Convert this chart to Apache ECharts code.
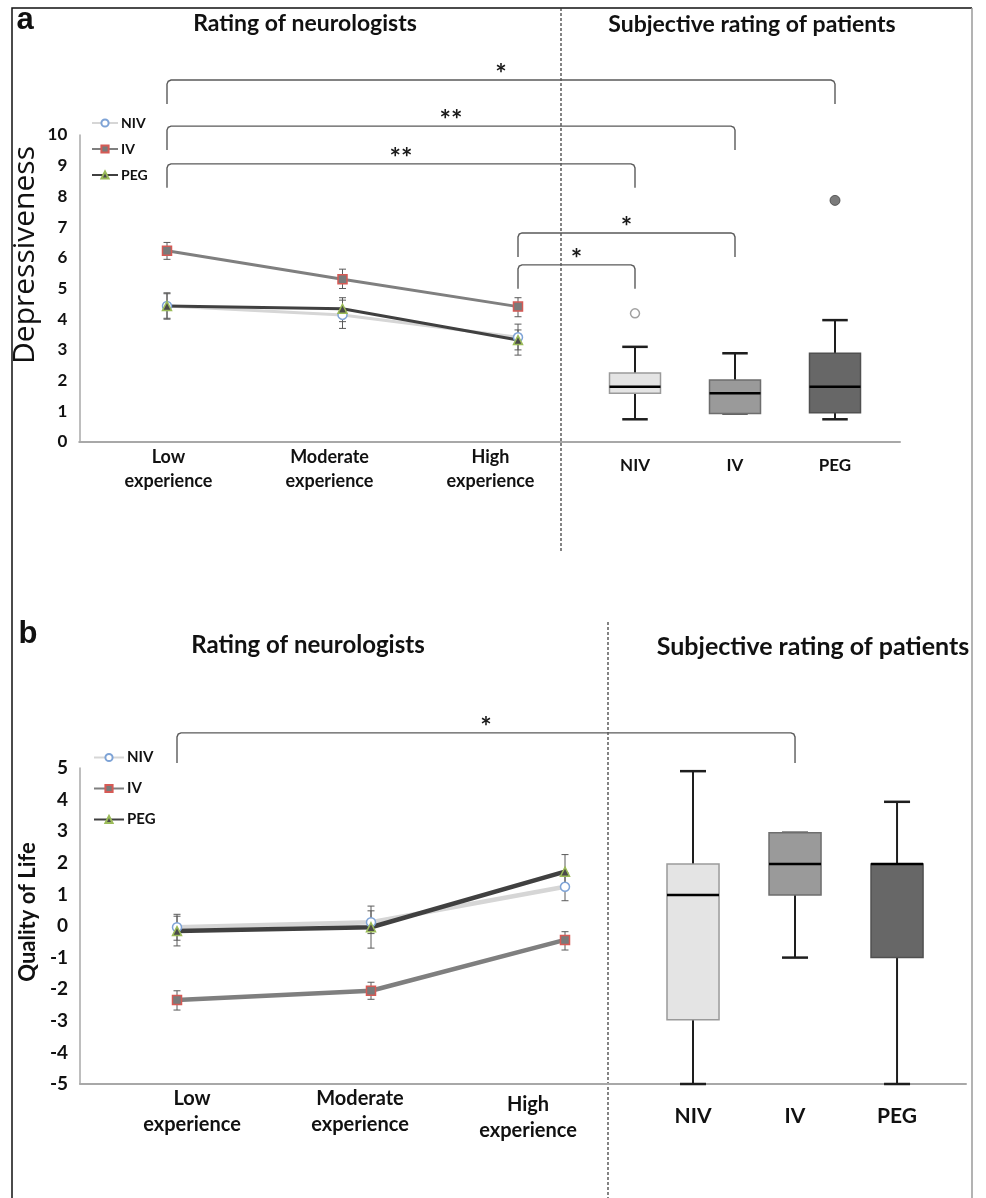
<!DOCTYPE html>
<html><head><meta charset="utf-8">
<script src="https://cdn.jsdelivr.net/npm/echarts@6/dist/echarts.min.js"></script>
<style>html,body{margin:0;padding:0;background:#fff}#c{width:986px;height:1198px}</style>
</head><body><div id="c"></div>
<script>
// ---------- DATA ----------
const experience = ['Low\nexperience', 'Moderate\nexperience', 'High\nexperience'];
const groups = ['NIV', 'IV', 'PEG'];

// Panel a: Depressiveness (neurologists' rating, mean per experience level)
const depNIV = [4.43, 4.14, 3.41];
const depIV  = [6.23, 5.30, 4.41];
const depPEG = [4.43, 4.34, 3.32];
// error bars [low, high]
const depNIVErr = [[4.00, 4.86], [3.70, 4.62], [2.83, 3.84]];
const depIVErr  = [[5.95, 6.50], [5.00, 5.63], [4.08, 4.70]];
const depPEGErr = [[4.03, 4.83], [3.92, 4.70], [3.00, 3.65]];
// patients' boxes [min, q1, median, q3, max]
const depBoxNIV = [0.74, 1.59, 1.80, 2.25, 3.10];
const depBoxIV  = [0.93, 0.93, 1.59, 2.02, 2.89];
const depBoxPEG = [0.74, 0.95, 1.80, 2.89, 3.97];
const depOutNIV = [4.19];
const depOutPEG = [7.87];
// significance brackets: from [kind, index] to [kind, index], level (axis value)
const depBrackets = [
  {from: ['line', 0], to: ['box', 3], level: 11.79, label: '*'},
  {from: ['line', 0], to: ['box', 2], level: 10.29, label: '**'},
  {from: ['line', 0], to: ['box', 1], level: 9.06,  label: '**'},
  {from: ['line', 2], to: ['box', 2], level: 6.81,  label: '*'},
  {from: ['line', 2], to: ['box', 1], level: 5.77,  label: '*'}
];

// Panel b: Quality of Life
const qolNIV = [-0.04, 0.12, 1.24];
const qolIV  = [-2.34, -2.05, -0.44];
const qolPEG = [-0.16, -0.04, 1.72];
const qolNIVErr = [[-0.45, 0.37], [-0.24, 0.48], [0.80, 1.68]];
const qolIVErr  = [[-2.66, -2.05], [-2.32, -1.78], [-0.76, -0.18]];
const qolPEGErr = [[-0.63, 0.31], [-0.70, 0.63], [1.18, 2.26]];
const qolBoxNIV = [-5, -2.97, 0.98, 1.96, 4.9];
const qolBoxIV  = [-1.0, 0.98, 1.96, 2.95, 2.95];
const qolBoxPEG = [-5, -1.0, 1.96, 1.96, 3.93];
const qolBrackets = [
  {from: ['line', 0], to: ['box', 2], level: 6.11, label: '*'}
];

const depTicks = {min: 0, max: 10, interval: 1};
const qolTicks = {min: -5, max: 5, interval: 1};

// ---------- STYLE ----------
const FONT = 'Lato';
const lineCol = {NIV: '#d6d6d6', IV: '#7f7f7f', PEG: '#404040'};
const symStyle = {
  NIV: {symbol: 'circle', itemStyle: {color: '#ffffff', borderColor: '#7ea3d6', borderWidth: 1.5}},
  IV:  {symbol: 'rect', itemStyle: {color: '#7a7a7a', borderColor: '#d65a55', borderWidth: 1.5}},
  PEG: {symbol: 'triangle', itemStyle: {color: '#4a4a4a', borderColor: '#9bbb59', borderWidth: 1.5}}
};
const boxFill = ['#e4e4e4', '#9a9a9a', '#676767'];
const boxBorder = ['#9a9a9a', '#6e6e6e', '#505050'];

const chart = echarts.init(document.getElementById('c'));

function lineSeries(name, data, axisIdx, width, suffix) {
  return {
    type: 'line', name: name + (suffix || ''), xAxisIndex: axisIdx, yAxisIndex: axisIdx,
    data: data, symbol: symStyle[name].symbol, symbolSize: 9, showSymbol: true,
    lineStyle: {color: lineCol[name], width: width},
    itemStyle: symStyle[name].itemStyle, z: 3
  };
}
function errRender(params, api) {
  const x = api.value(0), lo = api.value(1), hi = api.value(2);
  const p1 = api.coord([x, lo]), p2 = api.coord([x, hi]);
  const w = 3.5, st = {stroke: '#5a5a5a', lineWidth: 1};
  return {type: 'group', children: [
    {type: 'line', shape: {x1: p1[0], y1: p1[1], x2: p2[0], y2: p2[1]}, style: st},
    {type: 'line', shape: {x1: p1[0] - w, y1: p1[1], x2: p1[0] + w, y2: p1[1]}, style: st},
    {type: 'line', shape: {x1: p2[0] - w, y1: p2[1], x2: p2[0] + w, y2: p2[1]}, style: st}
  ]};
}
function errSeries(errs, axisIdx) {
  return {type: 'custom', xAxisIndex: axisIdx, yAxisIndex: axisIdx, renderItem: errRender,
    data: errs.map((e, i) => [i, e[0], e[1]]), encode: {x: 0, y: [1, 2]}, z: 2, silent: true};
}
function boxRender(params, api) {
  const x = api.value(0), k = api.value(6);
  const pMin = api.coord([x, api.value(1)]), pQ1 = api.coord([x, api.value(2)]);
  const pMed = api.coord([x, api.value(3)]), pQ3 = api.coord([x, api.value(4)]);
  const pMax = api.coord([x, api.value(5)]);
  const bw = api.size([1, 0])[0] * 0.51, hw = bw / 2, cw = bw / 4;
  const cx = pMed[0];
  const wh = {stroke: '#1e1e1e', lineWidth: 2};
  return {type: 'group', children: [
    {type: 'line', shape: {x1: cx, y1: pQ3[1], x2: cx, y2: pMax[1]}, style: wh},
    {type: 'line', shape: {x1: cx, y1: pQ1[1], x2: cx, y2: pMin[1]}, style: wh},
    {type: 'line', shape: {x1: cx - cw, y1: pMax[1], x2: cx + cw, y2: pMax[1]}, style: {stroke: '#1e1e1e', lineWidth: 2.5}},
    {type: 'line', shape: {x1: cx - cw, y1: pMin[1], x2: cx + cw, y2: pMin[1]}, style: {stroke: '#1e1e1e', lineWidth: 2.5}},
    {type: 'rect', shape: {x: cx - hw, y: pQ3[1], width: bw, height: pQ1[1] - pQ3[1]},
      style: {fill: boxFill[k], stroke: boxBorder[k], lineWidth: 1.5}},
    {type: 'line', shape: {x1: cx - hw, y1: pMed[1], x2: cx + hw, y2: pMed[1]}, style: {stroke: '#000', lineWidth: 2.5}}
  ]};
}
function boxSeries(boxes, axisIdx) {
  return {type: 'custom', xAxisIndex: axisIdx, yAxisIndex: axisIdx, renderItem: boxRender,
    data: boxes.map((b, i) => [i + 1].concat(b).concat([i])),
    encode: {x: 0, y: [1, 5]}, z: 2, silent: true};
}

function yAx(gi, ticks, show, fs) {
  return {type: 'value', gridIndex: gi, min: ticks.min, max: ticks.max, interval: ticks.interval,
    show: show, splitLine: {show: false}, axisTick: {show: false},
    axisLine: {show: show, lineStyle: {color: '#a8a8a8', width: 1.5}},
    axisLabel: {show: show, margin: 12, color: '#111', fontFamily: FONT, fontWeight: 'bold', fontSize: fs}};
}
const richLab = (fs, lh) => ({t: {fontFamily: FONT, fontWeight: 'bold', fontSize: fs, lineHeight: lh, color: '#111'},
  s: {fontSize: 1, lineHeight: 6}});

const option = {
  animation: false,
  textStyle: {fontFamily: FONT},
  grid: [
    {left: 79.25, top: 135, width: 526.5, height: 307, outerBoundsMode: 'none'},  // 0 a lines
    {left: 535, top: 135, width: 365, height: 307, outerBoundsMode: 'none'},      // 1 a boxes
    {left: 88, top: 135, width: 483, height: 307, outerBoundsMode: 'none'},       // 2 a labels
    {left: 80, top: 768, width: 582, height: 316, outerBoundsMode: 'none'},       // 3 b lines
    {left: 591, top: 768, width: 375, height: 316, outerBoundsMode: 'none'},      // 4 b boxes
    {left: 108, top: 768, width: 504, height: 316, outerBoundsMode: 'none'}       // 5 b labels
  ],
  xAxis: [
    {type: 'category', gridIndex: 0, data: experience, boundaryGap: true,
      axisLine: {lineStyle: {color: '#a8a8a8', width: 2}}, axisTick: {show: false}, axisLabel: {show: false}},
    {type: 'value', gridIndex: 1, min: 0, max: 3.65, interval: 1, splitLine: {show: false},
      axisLine: {show: true, onZero: false, lineStyle: {color: '#a8a8a8', width: 2}}, axisTick: {show: false},
      axisLabel: {margin: 15, color: '#111', fontWeight: 'bold', fontSize: 17, fontFamily: FONT, showMaxLabel: false,
        formatter: v => (Number.isInteger(v) && v >= 1 && v <= 3) ? groups[v - 1] : ''}},
    {type: 'category', gridIndex: 2, data: experience, boundaryGap: true,
      axisLine: {show: false}, axisTick: {show: false},
      axisLabel: {interval: 0, margin: 3, color: '#111', fontWeight: 'bold', fontSize: 18, lineHeight: 24, fontFamily: FONT}},
    {type: 'category', gridIndex: 3, data: experience, boundaryGap: true,
      axisLine: {onZero: false, lineStyle: {color: '#a8a8a8', width: 2}}, axisTick: {show: false}, axisLabel: {show: false}},
    {type: 'value', gridIndex: 4, min: 0, max: 3.676, interval: 1, splitLine: {show: false},
      axisLine: {show: true, onZero: false, lineStyle: {color: '#a8a8a8', width: 2}}, axisTick: {show: false},
      axisLabel: {margin: 22, color: '#111', fontWeight: 'bold', fontSize: 21, fontFamily: FONT, showMaxLabel: false,
        formatter: v => (Number.isInteger(v) && v >= 1 && v <= 3) ? groups[v - 1] : ''}},
    {type: 'category', gridIndex: 5, data: experience, boundaryGap: true,
      axisLine: {show: false}, axisTick: {show: false},
      axisLabel: {interval: 0, margin: 2, rich: richLab(20, 26),
        formatter: (v, i) => (i === 2 ? '{s| }\n' : '') + v.split('\n').map(l => '{t|' + l + '}').join('\n')}}
  ],
  yAxis: [
    yAx(0, depTicks, true, 17), yAx(1, depTicks, false, 17), yAx(2, depTicks, false, 17),
    yAx(3, qolTicks, true, 19), yAx(4, qolTicks, false, 19), yAx(5, qolTicks, false, 19)
  ],
  legend: [
    {orient: 'vertical', left: 91, top: 116, padding: 0, itemWidth: 26, itemHeight: 9, itemGap: 12,
      data: groups, textStyle: {fontFamily: FONT, fontWeight: 'bold', fontSize: 14, color: '#111', padding: [0, 0, 0, -2]}},
    {orient: 'vertical', left: 93, top: 750, padding: 0, itemWidth: 30, itemHeight: 9, itemGap: 16,
      data: groups.map(g => g + ' '), formatter: n => n.trim(),
      textStyle: {fontFamily: FONT, fontWeight: 'bold', fontSize: 15, color: '#111', padding: [0, 0, 0, -2]}}
  ],
  series: [
    errSeries(depNIVErr, 0), errSeries(depIVErr, 0), errSeries(depPEGErr, 0),
    lineSeries('NIV', depNIV, 0, 3), lineSeries('IV', depIV, 0, 3), lineSeries('PEG', depPEG, 0, 3),
    boxSeries([depBoxNIV, depBoxIV, depBoxPEG], 1),
    {type: 'scatter', xAxisIndex: 1, yAxisIndex: 1, data: depOutNIV.map(v => [1, v]), symbolSize: 9,
      itemStyle: {color: '#ffffff', borderColor: '#8a8a8a', borderWidth: 1.5}, silent: true},
    {type: 'scatter', xAxisIndex: 1, yAxisIndex: 1, data: depOutPEG.map(v => [3, v]), symbolSize: 10,
      itemStyle: {color: '#5a5a5a', borderColor: '#444', borderWidth: 1}, silent: true},
    errSeries(qolNIVErr, 3), errSeries(qolIVErr, 3), errSeries(qolPEGErr, 3),
    lineSeries('NIV', qolNIV, 3, 4.5, ' '), lineSeries('IV', qolIV, 3, 4.5, ' '), lineSeries('PEG', qolPEG, 3, 4.5, ' '),
    boxSeries([qolBoxNIV, qolBoxIV, qolBoxPEG], 4)
  ]
};
chart.setOption(option);

// ---------- annotations ----------
const G = [];
function txt(x, y, s, font, opts) {
  G.push({type: 'text', x: x, y: y, silent: true,
    style: Object.assign({text: s, font: font, fill: '#111', align: 'center', verticalAlign: 'middle'}, opts || {})});
}
function ln(pts, st) { G.push({type: 'polyline', silent: true, shape: {points: pts}, style: Object.assign({fill: null}, st)}); }

// frame
ln([[12, 1198], [12, 8], [972, 8]], {stroke: '#111', lineWidth: 1.5});
ln([[972, 8], [972, 1198]], {stroke: '#9a9a9a', lineWidth: 1.5});
// section separators
ln([[561, 8], [561, 552]], {stroke: '#333', lineWidth: 1.2, lineDash: [3, 2]});
ln([[608, 622], [608, 1198]], {stroke: '#333', lineWidth: 1.2, lineDash: [3, 2]});

// panel letters and titles
txt(25, 20, 'a', 'bold 31px "Liberation Sans"');
txt(28, 634, 'b', 'bold 31px "Liberation Sans"');
txt(305, 24, 'Rating of neurologists', 'bold 23px ' + FONT);
txt(752, 25, 'Subjective rating of patients', 'bold 23px ' + FONT);
txt(308, 645, 'Rating of neurologists', 'bold 24px ' + FONT);
txt(813, 647, 'Subjective rating of patients', 'bold 25px ' + FONT);
G.push({type: 'text', x: 25, y: 255, rotation: Math.PI / 2, silent: true,
  style: {text: 'Depressiveness', font: '30px "Open Sans"', fill: '#111', align: 'center', verticalAlign: 'middle'}});
G.push({type: 'text', x: 28, y: 912, rotation: Math.PI / 2, silent: true,
  style: {text: 'Quality of Life', font: 'bold 22px ' + FONT, fill: '#111', align: 'center', verticalAlign: 'middle'}});

function bracketPx(lineGrid, boxGrid, end, level) {
  const gi = end[0] === 'line' ? lineGrid : boxGrid;
  return chart.convertToPixel({gridIndex: gi}, [end[1], level]);
}
function drawBrackets(list, lineGrid, boxGrid, drop) {
  list.forEach(b => {
    const a = bracketPx(lineGrid, boxGrid, b.from, b.level);
    const c = bracketPx(lineGrid, boxGrid, b.to, b.level);
    const x1 = a[0], x2 = c[0], y = a[1], r = 4;
    ln([[x1, y + drop], [x1, y + r], [x1 + r * 0.3, y + r * 0.3], [x1 + r, y],
        [x2 - r, y], [x2 - r * 0.3, y + r * 0.3], [x2, y + r], [x2, y + drop]],
       {stroke: '#5a5a5a', lineWidth: 1.4});
    txt((x1 + x2) / 2, y - 6, b.label, 'bold 27px ' + FONT, {fill: '#1a1a1a'});
  });
}
drawBrackets(depBrackets, 0, 1, 24);
drawBrackets(qolBrackets, 3, 4, 30);

chart.setOption({graphic: G});
</script></body></html>
